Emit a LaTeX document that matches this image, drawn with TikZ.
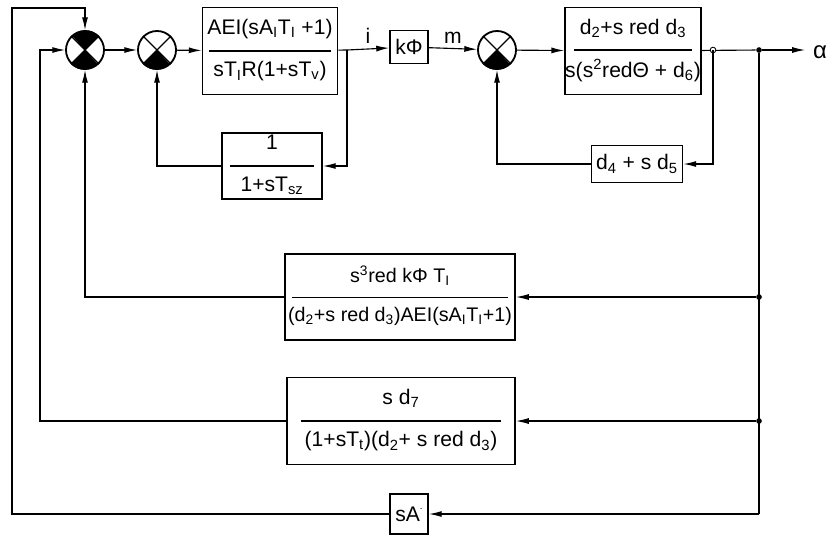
\documentclass[tikz,border=0pt]{standalone}
\usepackage{fontspec}
\setmainfont{Liberation Sans}
\usetikzlibrary{arrows.meta}
\newcommand{\frc}[3]{\begin{tabular}{@{}c@{}}#1\\[-1pt]\rule[0.5ex]{#3}{1.2pt}\\[-3pt]#2\end{tabular}}
\newcommand{\subx}[1]{\textsubscript{#1}}
\newcommand{\supx}[1]{\textsuperscript{#1}}
\begin{document}
\begin{tikzpicture}[x=0.025cm,y=-0.025cm,
    line width=0.8pt,
    >={Latex[length=3.2mm,width=1.5mm]},
    blk/.style={draw,line width=1.3pt,inner sep=0pt,font=\fontsize{15}{17}\selectfont},
    sumj/.style={draw,circle,line width=1.3pt,minimum size=0.95cm,inner sep=0pt},
    dot/.style={circle,fill,inner sep=0pt,minimum size=4pt}]
    \useasboundingbox (0,0) rectangle (832,535);
    % summing points
    \node[sumj] (s1) at (85,50) {};
    \node[sumj] (s2) at (157,50) {};
    \node[sumj] (s3) at (497,50) {};
    \fill (s1.center) -- (s1.45) arc[start angle=45,end angle=135,radius=0.475cm] -- cycle;
    \fill (s1.center) -- (s1.225) arc[start angle=225,end angle=315,radius=0.475cm] -- cycle;
    \fill (s2.center) -- (s2.225) arc[start angle=225,end angle=315,radius=0.475cm] -- cycle;
    \fill (s3.center) -- (s3.225) arc[start angle=225,end angle=315,radius=0.475cm] -- cycle;
    \foreach \s in {s1,s2,s3} {
        \draw (\s.45) -- (\s.225);
        \draw (\s.135) -- (\s.315);
    }
    % blocks
    \node[blk,minimum width=3.375cm,minimum height=2.175cm] (b1) at (270,51)
        {\frc{AEI(sA\subx{I}T\subx{I} +1)}{sT\subx{I}R(1+sT\subx{v})}{3.05cm}};
    \node[blk,minimum width=0.95cm,minimum height=0.825cm] (kf) at (409,47) {kΦ};
    \node[blk,minimum width=3.225cm,minimum height=2.175cm] (b2) at (633,51)
        {\frc{d\subx{2}+s red d\subx{3}}{s(s\supx{2}redΘ + d\subx{6})}{2.95cm}};
    \node[blk,minimum width=2.5cm,minimum height=1.65cm] (fb1) at (272,166)
        {\frc{1}{1+sT\subx{sz}}{2.1cm}};
    \node[blk,minimum width=2.275cm,minimum height=0.925cm] (fb2) at (637,164)
        {d\subx{4} + s d\subx{5}};
    \node[blk,minimum width=5.75cm,minimum height=2.15cm,font=\fontsize{14}{16}\selectfont] (b3) at (400,297)
        {\frc{s\supx{3}red kΦ T\subx{I}}{(d\subx{2}+s red d\subx{3})AEI(sA\subx{I}T\subx{I}+1)}{5.4cm}};
    \node[blk,minimum width=5.7cm,minimum height=2.175cm] (b4) at (401,421)
        {\frc{s d\subx{7}}{(1+sT\subx{t})(d\subx{2}+ s red d\subx{3})}{5.0cm}};
    \node[blk,minimum width=0.95cm,minimum height=1.0cm] (sa) at (409,514) {sA\raisebox{0.55em}{\scriptsize.}};
    % branch points
    \coordinate (p1) at (347,50);
    \coordinate (p2) at (713,50);
    \node[dot] (p3) at (759,50) {};
    \coordinate (out) at (805,50);
    \coordinate (q4) at (759,514);
    \node[dot] (q2) at (759,297) {};
    \node[dot] (q3) at (759,421) {};
    \coordinate (c1) at (12,8);
    \coordinate (c2) at (40,50);
    \node[font=\fontsize{17}{19}\selectfont] (alpha) at (820,52) {α};
    % forward path
    \draw[->] (s1) -- (s2);
    \draw[->] (s2) -- (b1);
    \draw (b1) -- (p1);
    \draw[->] (p1) -- node[above,font=\fontsize{15}{17}\selectfont] (li) {i} (kf);
    \draw[->] (kf) -- node[above,font=\fontsize{15}{17}\selectfont] (lm) {m} (s3);
    \draw[->] (s3) -- (b2);
    \draw (b2) -- (p3);
    \draw[->] (p3) -- (out);
    \fill[white] (p2) circle (2pt);
    \draw[line width=0.6pt] (p2) circle (2pt);
    % inner loops
    \draw[->] (p1) |- (fb1);
    \draw[->] (fb1) -| (s2);
    \draw[->] (p2) |- (fb2);
    \draw[->] (fb2) -| (s3);
    % outer loops
    \draw (p3) -- (q4);
    \draw[->] (q2) -- (b3);
    \draw[->] (b3) -| (s1);
    \draw[->] (q3) -- (b4);
    \draw[->] (b4) -| (c2) -- (s1);
    \draw[->] (q4) -- (sa);
    \draw[->] (sa) -| (c1) -| (s1);
\end{tikzpicture}
\end{document}
